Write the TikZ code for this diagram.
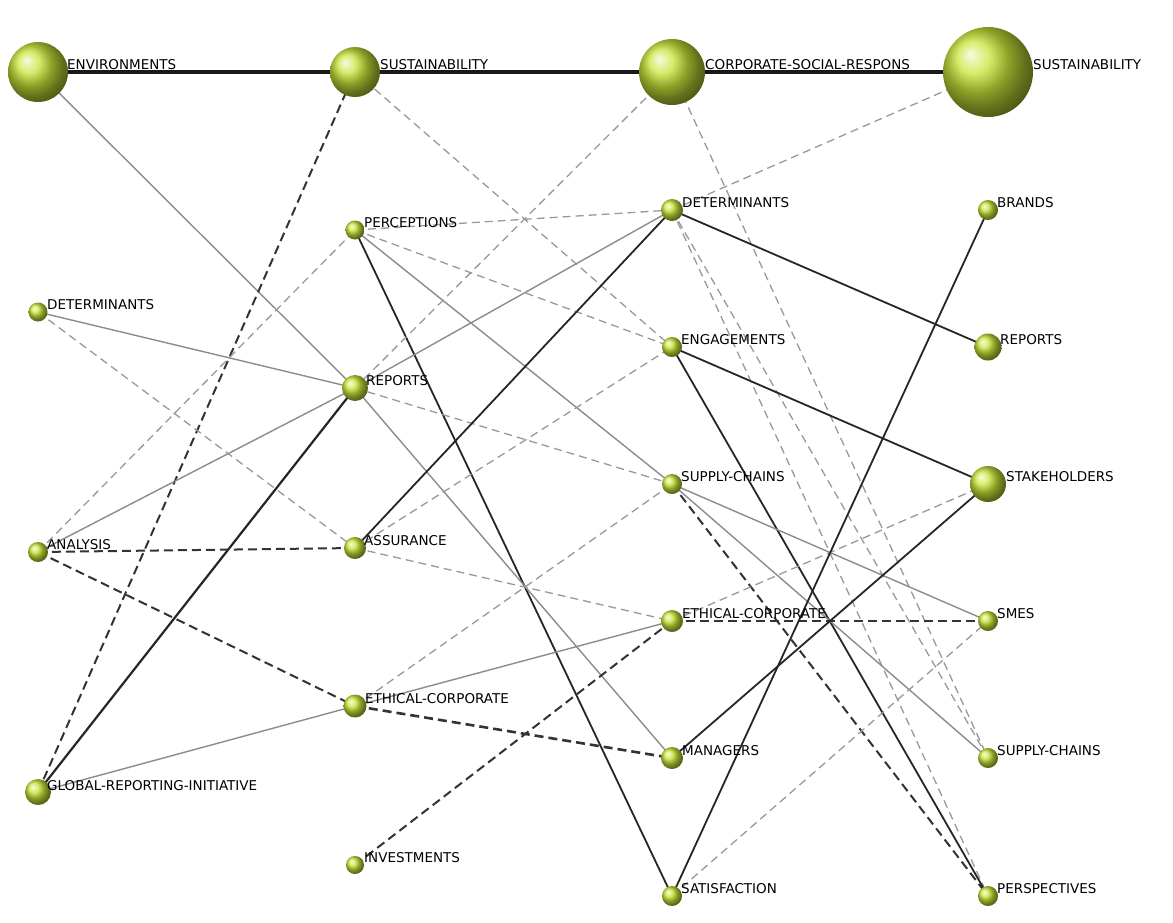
\documentclass[tikz,border=0pt]{standalone}
\usepackage{fontspec}
\setmainfont{DejaVu Sans}
\usetikzlibrary{backgrounds}
\definecolor{ballc}{RGB}{200,228,55}
\tikzset{
  b/.style={circle,inner sep=0pt,minimum size=#1,shading=ball,ball color=ballc},
  lab/.style={anchor=west,font=\fontsize{13.5}{13.5}\selectfont,inner sep=1pt},
  tk/.style={line width=4pt,black!90},
  bs/.style={line width=1.8pt,black!85},
  gs/.style={line width=1.4pt,black!45},
  gd/.style={line width=1.3pt,black!40,dash pattern=on 8pt off 5pt},
  bd/.style={line width=2pt,black!80,dash pattern=on 9pt off 5pt},
}
\begin{document}
\begin{tikzpicture}[x=1pt,y=-1pt]
\useasboundingbox (0,0) rectangle (1173,922);
% column 1
\node[b=60] (env) at (38,72) {};
\node[b=19] (det1) at (38,312) {};
\node[b=20] (ana) at (38,552) {};
\node[b=26] (gri) at (38,792) {};
% column 2
\node[b=50] (sus2) at (355,72) {};
\node[b=19] (per) at (355,230) {};
\node[b=26] (rep2) at (355,388) {};
\node[b=22] (ass) at (355,548) {};
\node[b=23] (eth2) at (355,706) {};
\node[b=18] (inv) at (355,865) {};
% column 3
\node[b=66] (csr) at (672,72) {};
\node[b=22] (det3) at (672,210) {};
\node[b=20] (eng) at (672,347) {};
\node[b=20] (sc3) at (672,484) {};
\node[b=22] (eth3) at (672,621) {};
\node[b=22] (man) at (672,758) {};
\node[b=20] (sat) at (672,896) {};
% column 4
\node[b=90] (sus4) at (988,72) {};
\node[b=20] (bra) at (988,210) {};
\node[b=27] (rep4) at (988,347) {};
\node[b=36] (sta) at (988,484) {};
\node[b=20] (sme) at (988,621) {};
\node[b=20] (sc4) at (988,758) {};
\node[b=20] (pers) at (988,896) {};
% labels
\node[lab] at (66,65) {ENVIRONMENTS};
\node[lab] at (46,305) {DETERMINANTS};
\node[lab] at (46,545) {ANALYSIS};
\node[lab] at (46,786) {GLOBAL-REPORTING-INITIATIVE};
\node[lab] at (379,65) {SUSTAINABILITY};
\node[lab] at (363,223) {PERCEPTIONS};
\node[lab] at (365,381) {REPORTS};
\node[lab] at (363,541) {ASSURANCE};
\node[lab] at (364,699) {ETHICAL-CORPORATE};
\node[lab] at (363,858) {INVESTMENTS};
\node[lab] at (704,65) {CORPORATE-SOCIAL-RESPONS};
\node[lab] at (681,203) {DETERMINANTS};
\node[lab] at (680,340) {ENGAGEMENTS};
\node[lab] at (680,477) {SUPPLY-CHAINS};
\node[lab] at (681,614) {ETHICAL-CORPORATE};
\node[lab] at (681,751) {MANAGERS};
\node[lab] at (680,889) {SATISFACTION};
\node[lab] at (1032,65) {SUSTAINABILITY};
\node[lab] at (996,203) {BRANDS};
\node[lab] at (999,340) {REPORTS};
\node[lab] at (1005,477) {STAKEHOLDERS};
\node[lab] at (996,614) {SMES};
\node[lab] at (996,751) {SUPPLY-CHAINS};
\node[lab] at (996,889) {PERSPECTIVES};
\begin{pgfonlayer}{background}
\fill[white] (0,0) rectangle (1173,922);
\draw[tk] (env.center)--(sus2.center);
\draw[tk] (sus2.center)--(csr.center);
\draw[tk] (csr.center)--(sus4.center);
\draw[gs] (env.center)--(rep2.center);
\draw[bd] (gri.center)--(sus2.center);
\draw[bs,line width=2.2pt] (gri.center)--(rep2.center);
\draw[gs] (gri.center)--(eth2.center);
\draw[gs] (det1.center)--(rep2.center);
\draw[gd] (det1.center)--(ass.center);
\draw[gd] (ana.center)--(per.center);
\draw[gs] (ana.center)--(rep2.center);
\draw[bd] (ana.center)--(ass.center);
\draw[bd] (ana.center)--(eth2.center);
\draw[gd] (sus2.center)--(eng.center);
\draw[gd] (per.center)--(det3.center);
\draw[gd] (per.center)--(eng.center);
\draw[gs] (per.center)--(sc3.center);
\draw[bs] (per.center)--(sat.center);
\draw[gd] (rep2.center)--(csr.center);
\draw[gs] (rep2.center)--(det3.center);
\draw[gd] (rep2.center)--(sc3.center);
\draw[gs] (rep2.center)--(man.center);
\draw[bs] (ass.center)--(det3.center);
\draw[gd] (ass.center)--(eng.center);
\draw[gd] (ass.center)--(eth3.center);
\draw[gd] (eth2.center)--(sc3.center);
\draw[gs] (eth2.center)--(eth3.center);
\draw[bd,line width=2.6pt] (eth2.center)--(man.center);
\draw[bd] (inv.center)--(eth3.center);
\draw[gd] (csr.center)--(sc4.center);
\draw[gd] (det3.center)--(sus4.center);
\draw[bs] (det3.center)--(rep4.center);
\draw[gd] (det3.center)--(sc4.center);
\draw[gd] (det3.center)--(pers.center);
\draw[bs] (eng.center)--(sta.center);
\draw[bs] (eng.center)--(pers.center);
\draw[gs] (sc3.center)--(sme.center);
\draw[gs] (sc3.center)--(sc4.center);
\draw[bd] (sc3.center)--(pers.center);
\draw[bd] (eth3.center)--(sme.center);
\draw[gd] (eth3.center)--(sta.center);
\draw[bs] (man.center)--(sta.center);
\draw[bs] (sat.center)--(bra.center);
\draw[gd] (sat.center)--(sme.center);
\end{pgfonlayer}
\end{tikzpicture}
\end{document}
